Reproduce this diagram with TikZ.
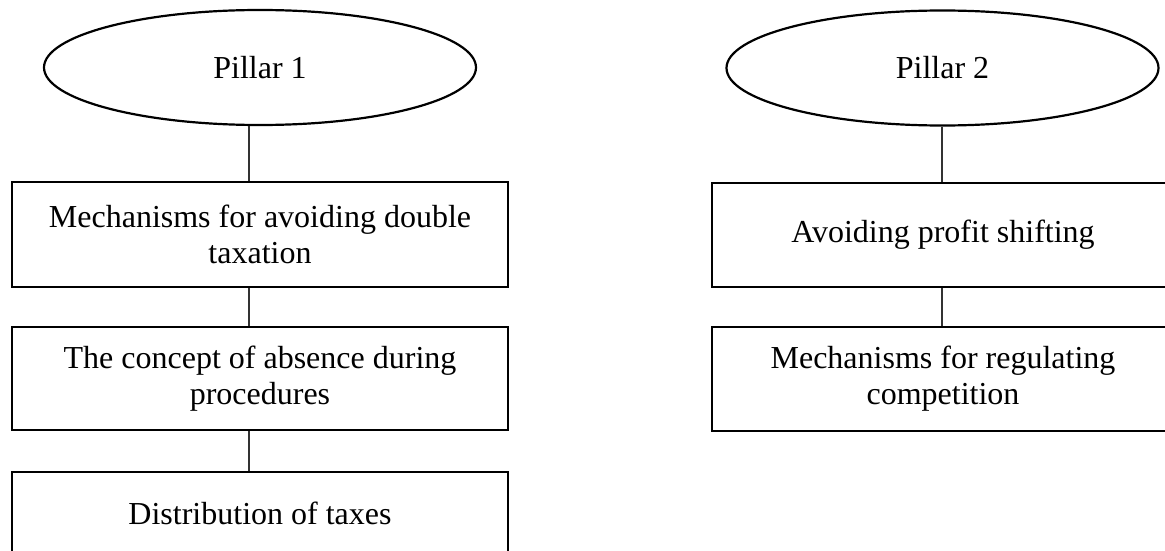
\documentclass[tikz,border=0pt]{standalone}
\usepackage{fontspec}
\setmainfont{Liberation Serif}
\usetikzlibrary{shapes.geometric}

\tikzset{
  pillar/.style={draw=black, line width=2.2pt, ellipse, inner sep=0pt,
    minimum width=432pt, minimum height=115pt, font=\fontsize{32}{36}\selectfont},
  topic/.style={draw=black, line width=2.5pt, rectangle, inner sep=0pt, align=center,
    font=\fontsize{32}{36}\selectfont},
  link/.style={draw=black!80, line width=1.1pt}
}

\begin{document}
\begin{tikzpicture}[x=1pt, y=-1pt]
  \useasboundingbox (0,0) rectangle (1165,551);

  % Pillar 1 column
  \node[pillar] (p1) at (260,67.5) {Pillar 1};
  \node[topic, minimum width=496pt, minimum height=105pt] (a1) at (260,234.5)
    {Mechanisms for avoiding double\\taxation};
  \node[topic, minimum width=496pt, minimum height=103pt] (a2) at (260,378.5)
    {The concept of absence during\\procedures};
  \node[topic, minimum width=496pt, minimum height=83pt] (a3) at (260,513.5)
    {Distribution of taxes};

  % Pillar 2 column
  \node[pillar] (p2) at (942.5,68) {Pillar 2};
  \node[topic, minimum width=462pt, minimum height=104pt] (b1) at (943,235)
    {Avoiding profit shifting};
  \node[topic, minimum width=462pt, minimum height=104pt] (b2) at (943,379)
    {Mechanisms for regulating\\competition};

  % vertical spines carrying the connectors
  \coordinate (s1) at (249,0);
  \coordinate (s2) at (942,0);

  \draw[link] (p1.south -| s1) -- (a1.north -| s1);
  \draw[link] (a1.south -| s1) -- (a2.north -| s1);
  \draw[link] (a2.south -| s1) -- (a3.north -| s1);

  \draw[link] (p2.south -| s2) -- (b1.north -| s2);
  \draw[link] (b1.south -| s2) -- (b2.north -| s2);
\end{tikzpicture}
\end{document}
